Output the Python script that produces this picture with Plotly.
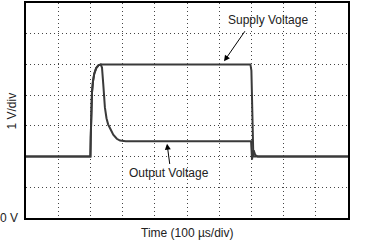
import plotly.graph_objects as go

# Time in microseconds, voltages in volts
supply_t = [0, 200, 201, 203, 205, 208, 212, 218, 225, 232, 697, 700, 702, 704, 706, 1000]
supply_v = [2, 2, 2.6, 3.6, 4.1, 4.45, 4.7, 4.88, 4.97, 5.0, 5.0, 4.8, 3.6, 2.4, 2.0, 2.0]

output_t = [0, 200, 201, 203, 205, 208, 212, 218, 225, 232, 236, 240, 245, 250, 255, 261,
            266, 271, 282, 292, 310, 699, 700, 701, 702, 704, 707, 712, 720, 1000]
output_v = [2, 2, 2.6, 3.6, 4.1, 4.45, 4.7, 4.88, 4.97, 5.0, 4.9, 4.35, 3.6, 3.25, 3.05, 2.92,
            2.8, 2.71, 2.58, 2.52, 2.5, 2.5, 2.3, 1.95, 1.9, 2.15, 2.2, 2.05, 2.0, 2.0]

x_ticks = list(range(0, 1001, 100))
y_ticks = list(range(0, 8))

FONT = dict(family="Liberation Sans, Arial, sans-serif", size=12, color="#222")
LINE = "#3a3a3a"

fig = go.Figure()
fig.add_trace(go.Scatter(x=supply_t, y=supply_v, mode="lines",
                         line=dict(color=LINE, width=2), hoverinfo="skip"))
fig.add_trace(go.Scatter(x=output_t, y=output_v, mode="lines",
                         line=dict(color=LINE, width=2), hoverinfo="skip"))

fig.update_layout(
    width=366, height=241,
    margin=dict(l=26, r=18, t=1, b=23),
    paper_bgcolor="white", plot_bgcolor="white",
    showlegend=False, font=FONT,
    xaxis=dict(range=[0, 1000], tickvals=x_ticks, showticklabels=False,
               showgrid=True, gridcolor="#444", gridwidth=1, griddash="1px,3px",
               zeroline=False, showline=True, linecolor="black", linewidth=2,
               mirror=True, ticks=""),
    yaxis=dict(range=[0, 7], tickvals=y_ticks, showticklabels=False,
               showgrid=True, gridcolor="#444", gridwidth=1, griddash="1px,3px",
               zeroline=False, showline=True, linecolor="black", linewidth=2,
               mirror=True, ticks=""),
)

annotations = [
    dict(text="Supply Voltage", x=752, y=6.45, xref="x", yref="y",
         showarrow=False, font=FONT),
    dict(text="", x=615, y=5.1, ax=683, ay=6.13, xref="x", yref="y",
         axref="x", ayref="y", showarrow=True, arrowhead=2, arrowsize=1.2,
         arrowwidth=1, arrowcolor="black"),
    dict(text="Output Voltage", x=444, y=1.45, xref="x", yref="y",
         showarrow=False, font=FONT),
    dict(text="", x=438, y=2.42, ax=447, ay=1.71, xref="x", yref="y",
         axref="x", ayref="y", showarrow=True, arrowhead=2, arrowsize=1.2,
         arrowwidth=1, arrowcolor="black"),
    dict(text="Time (100 µs/div)", x=0.5, y=-0.069, xref="paper", yref="paper",
         xanchor="center", yanchor="middle", showarrow=False, font=FONT),
    dict(text="1 V/div", x=-0.0435, y=0.5, xref="paper", yref="paper",
         textangle=-90, xanchor="center", yanchor="middle", showarrow=False, font=FONT),
    dict(text="0 V", x=-0.0186, y=0, xref="paper", yref="paper",
         xanchor="right", yanchor="middle", showarrow=False, font=FONT),
]
fig.update_layout(annotations=annotations)

fig.write_html("out.html")
